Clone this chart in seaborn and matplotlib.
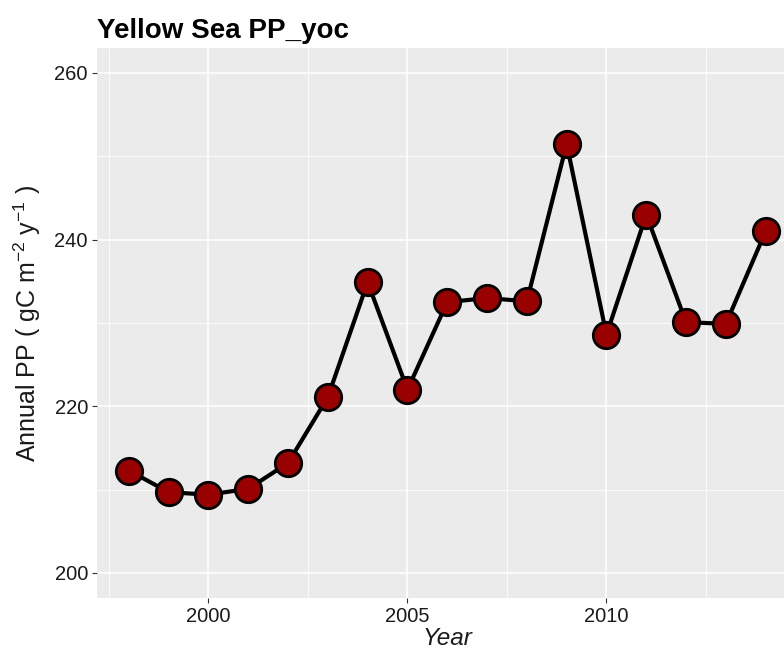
import matplotlib
matplotlib.use("Agg")
import matplotlib.pyplot as plt
import seaborn as sns
import pandas as pd
from matplotlib.ticker import FixedLocator

years = [1998, 1999, 2000, 2001, 2002, 2003, 2004, 2005, 2006, 2007, 2008,
         2009, 2010, 2011, 2012, 2013, 2014]
annual_pp = [212.3, 209.7, 209.4, 210.1, 213.2, 221.1, 234.9, 222.0, 232.5,
             233.0, 232.6, 251.5, 228.6, 243.0, 230.1, 229.9, 241.0]

title = "Yellow Sea PP_yoc"
xlabel = "Year"
ylabel = "Annual PP ( gC m$^{-2}$ y$^{-1}$ )"
xticks = [2000, 2005, 2010]
yticks = [200, 220, 240, 260]

df = pd.DataFrame({"Year": years, "PP": annual_pp})

sns.set_theme(style="darkgrid")
plt.rcParams["font.family"] = ["Liberation Sans", "DejaVu Sans"]
plt.rcParams["mathtext.fontset"] = "custom"
plt.rcParams["mathtext.rm"] = "Liberation Sans"
plt.rcParams["mathtext.it"] = "Liberation Sans:italic"

fig = plt.figure(figsize=(7.84, 6.49), dpi=100)
ax = fig.add_axes([97 / 784, 1 - 598 / 649, (797.5 - 97) / 784, 550 / 649])
ax.set_facecolor("#EBEBEB")

sns.lineplot(data=df, x="Year", y="PP", ax=ax, color="black", linewidth=3.0,
             marker="o", markersize=19, markerfacecolor="#990000",
             markeredgecolor="black", markeredgewidth=2.0)

ax.set_xlim(1997.2, 2014.8)
ax.set_ylim(197, 263)
ax.xaxis.set_major_locator(FixedLocator(xticks))
ax.yaxis.set_major_locator(FixedLocator(yticks))
ax.xaxis.set_minor_locator(FixedLocator([1997.5, 2002.5, 2007.5, 2012.5]))
ax.yaxis.set_minor_locator(FixedLocator([210, 230, 250]))
ax.grid(which="major", color="white", linewidth=1.1)
ax.grid(which="minor", color="white", linewidth=0.55)
ax.set_axisbelow(True)
for s in ax.spines.values():
    s.set_visible(False)

ax.tick_params(axis="both", which="major", length=3.5, width=0.8, color="#333333",
               labelsize=14.5, labelcolor="#1a1a1a", pad=3, bottom=True, left=True)
ax.tick_params(axis="both", which="minor", length=0)

ax.set_xlabel(xlabel, fontsize=17.5, style="italic", color="#1a1a1a", labelpad=0.5)
ax.set_ylabel(ylabel, fontsize=18, color="#1a1a1a", labelpad=8)
fig.text(97 / 784, 1 - 31 / 649, title, fontsize=20, fontweight="bold",
         ha="left", va="center", color="black")

fig.savefig("out.png", dpi=100, facecolor="white")
